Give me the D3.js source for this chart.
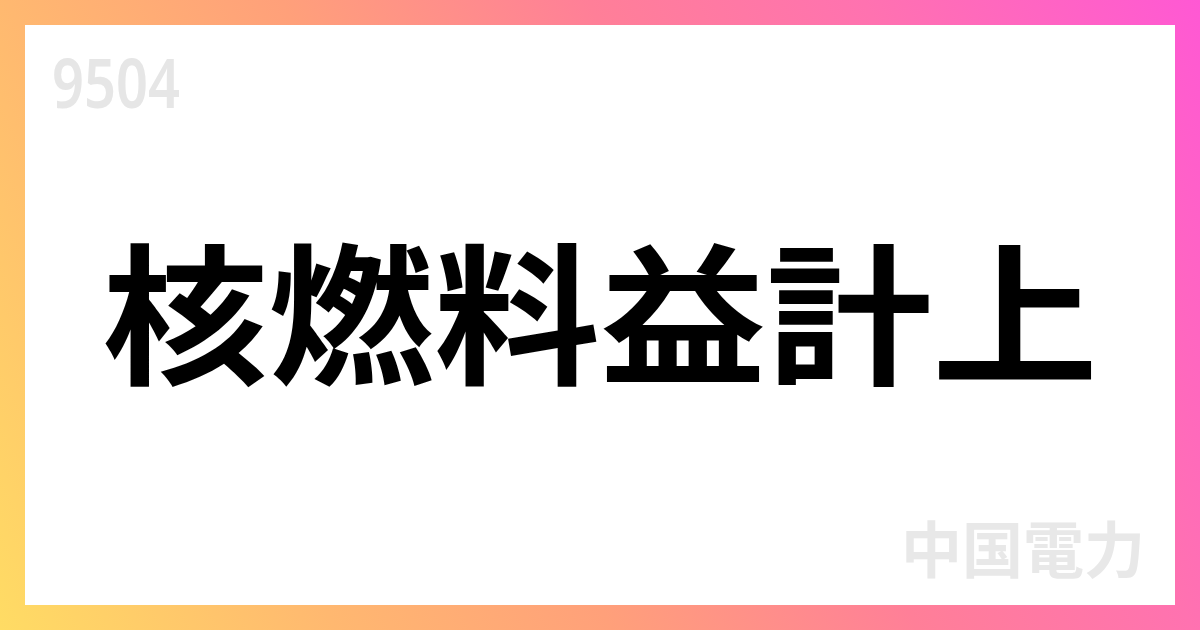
<!DOCTYPE html>
<html>
<head>
<meta charset="utf-8">
<script src="https://cdn.jsdelivr.net/npm/d3@7"></script>
<style>
  html, body { margin: 0; padding: 0; background: #fff; }
  svg { display: block; }
</style>
</head>
<body>
<div id="card"></div>
<script>
// card texts
const codeLabel = ["9504"];
const titleChars = ["核", "燃", "料", "益", "計", "上"];
const companyLabel = ["中国電力"];

// border gradient stops (yellow bottom-left -> magenta top-right)
const gradOffsets = [0, 0.22, 0.4, 0.6, 0.78, 1];
const gradColors = ["#ffdc64", "#ffb870", "#ffa07a", "#ff7f98", "#ff72b0", "#ff58d4"];

const width = 1200, height = 630, inset = 25;

const svg = d3.select("#card")
  .append("svg")
    .attr("width", width)
    .attr("height", height);

const grad = svg.append("defs")
  .append("linearGradient")
    .attr("id", "frame")
    .attr("gradientUnits", "userSpaceOnUse")
    .attr("x1", 0).attr("y1", height)
    .attr("x2", width).attr("y2", 0);

grad.selectAll("stop")
  .data(gradOffsets)
  .join("stop")
    .attr("offset", d => d)
    .attr("stop-color", (d, i) => gradColors[i]);

svg.append("rect")
  .attr("width", width)
  .attr("height", height)
  .attr("fill", "url(#frame)");

svg.append("rect")
  .attr("x", inset)
  .attr("y", inset)
  .attr("width", width - inset * 2)
  .attr("height", height - inset * 2)
  .attr("fill", "#fff");

// stock code, top left
svg.selectAll(".code")
  .data(codeLabel)
  .join("text")
    .attr("class", "code")
    .attr("x", 52)
    .attr("y", 108)
    .attr("textLength", 128)
    .attr("lengthAdjust", "spacingAndGlyphs")
    .style("font-family", "'Noto Sans', 'DejaVu Sans', sans-serif")
    .style("font-weight", 600)
    .style("font-size", "68px")
    .style("fill", "#e6e6e6")
    .text(d => d);

// big title, one character per band
const x = d3.scaleBand()
  .domain(d3.range(titleChars.length))
  .range([102, 1098])
  .padding(0);

// the original face is a bit shorter than Noto, squash it slightly
const titleG = svg.append("g")
  .attr("transform", "translate(0,306) scale(1,0.92)");

titleG.selectAll(".title")
  .data(titleChars)
  .join("text")
    .attr("class", "title")
    .attr("x", (d, i) => x(i) + x.bandwidth() / 2)
    .attr("y", 0)
    .attr("text-anchor", "middle")
    .attr("dominant-baseline", "central")
    .style("font-family", "'Noto Sans CJK JP', sans-serif")
    .style("font-weight", 700)
    .style("font-size", "166px")
    .style("fill", "#000")
    .text(d => d);

// company name, bottom right
svg.selectAll(".company")
  .data(companyLabel)
  .join("text")
    .attr("class", "company")
    .attr("x", 1145)
    .attr("y", 546)
    .attr("text-anchor", "end")
    .attr("dominant-baseline", "central")
    .style("font-family", "'Noto Sans CJK JP', sans-serif")
    .style("font-weight", 700)
    .style("font-size", "61px")
    .style("fill", "#e8e8e8")
    .text(d => d);
</script>
</body>
</html>
